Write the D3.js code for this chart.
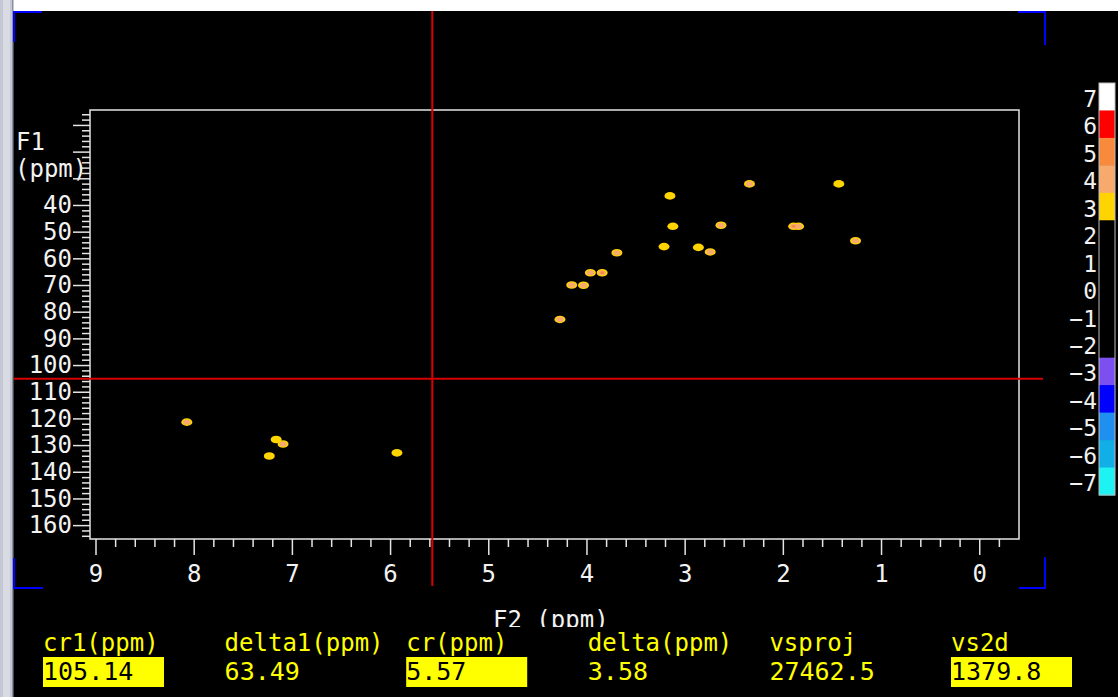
<!DOCTYPE html>
<html>
<head>
<meta charset="utf-8">
<script src="https://cdn.jsdelivr.net/npm/d3@7"></script>
<style>
  html, body { margin: 0; padding: 0; background: #000; overflow: hidden; }
  svg { display: block; }
  text { font-family: "DejaVu Sans Mono", "Liberation Mono", monospace; }
</style>
</head>
<body>
<svg id="chart" width="1118" height="697"></svg>
<script>
// axis tick labels
const f2Labels = [9, 8, 7, 6, 5, 4, 3, 2, 1, 0];
const f1Labels = [40, 50, 60, 70, 80, 90, 100, 110, 120, 130, 140, 150, 160];
const f1Majors = [10, 20, 30].concat(f1Labels);

// contour levels of the colour bar, top to bottom
const levels = [7, 6, 5, 4, 3, 2, 1, 0, -1, -2, -3, -4, -5, -6, -7];
const levelColors = ['#ffffff', '#ff0000', '#f78a3c', '#f7aa6e', '#ffd400',
  '#000000', '#000000', '#000000', '#000000', '#000000',
  '#7c50f0', '#0000ff', '#2090f0', '#12aee8', '#1ef2f2'];

// cross peaks (F2 ppm, F1 ppm, highest contour level reached)
const peakF2 = [4.27, 4.15, 4.03, 3.96, 3.84, 3.69, 3.15, 3.12, 3.21, 2.86, 2.74, 2.63,
  2.34, 1.89, 1.84, 1.43, 1.26, 8.07, 7.16, 7.09, 7.23, 5.93];
const peakF1 = [82.9, 70.0, 70.1, 65.4, 65.4, 57.9, 36.6, 48.0, 55.6, 55.9, 57.6, 47.6,
  32.1, 48.0, 48.0, 32.1, 53.4, 121.4, 127.9, 129.6, 134.1, 132.9];
const peakLevel = [4, 4, 4, 4, 5, 4, 3, 3, 3, 3, 4, 4, 4, 5, 4, 3, 4, 4, 3, 4, 3, 3];

// cursor readout
const readLabels = ['cr1(ppm)', 'delta1(ppm)', 'cr(ppm)', 'delta(ppm)', 'vsproj', 'vs2d'];
const readValues = ['105.14', '63.49', '5.57', '3.58', '27462.5', '1379.8'];
const readBoxed = [true, false, true, false, false, true];

(function() {
  'use strict';

  const svg = d3.select('#chart');
  const W = 1118, H = 697;
  const frame = { left: 90, top: 110, right: 1019, bottom: 539 };
  const axisColor = '#e4e4e4';
  const yellow = '#ffff00';

  // window chrome
  svg.append('rect').attr('width', W).attr('height', H).attr('fill', '#000');
  svg.append('rect').attr('width', W).attr('height', 11).attr('fill', '#ffffff');
  svg.append('rect').attr('x', 0).attr('y', 0).attr('width', 13).attr('height', H).attr('fill', '#c4c8d2');
  svg.append('rect').attr('x', 3).attr('y', 0).attr('width', 7).attr('height', H).attr('fill', '#d8dbe3');
  svg.append('rect').attr('x', 12).attr('y', 0).attr('width', 1.5).attr('height', H).attr('fill', '#8a90a0');

  const x = d3.scaleLinear().domain([9.056, -0.405]).range([frame.left, frame.right]);
  const y = d3.scaleLinear().domain([4.4, 165.2]).range([frame.top, frame.bottom]);

  // blue corner marks of the display area
  const corners = [
    [[14, 42], [14, 12], [42, 12]],
    [[1018, 12], [1045, 12], [1045, 45]],
    [[1045, 557], [1045, 588], [1019, 588]],
    [[14, 558], [14, 588], [43, 588]]
  ];
  svg.append('g').selectAll('path').data(corners).enter().append('path')
    .attr('d', d => d3.line()(d))
    .attr('fill', 'none').attr('stroke', '#0000ff').attr('stroke-width', 2);

  // peaks drawn as nested contour blobs
  const levelColor = d3.scaleOrdinal().domain(levels).range(levelColors);
  const peaks = peakF2.map((f2, i) => ({ f2: f2, f1: peakF1[i], level: peakLevel[i] }));
  const contourSteps = [3, 4, 5];
  const peakG = svg.append('g');
  contourSteps.forEach((lv, k) => {
    peakG.append('g').selectAll('ellipse')
      .data(peaks.filter(p => p.level >= lv))
      .enter().append('ellipse')
      .attr('cx', d => x(d.f2))
      .attr('cy', d => y(d.f1))
      .attr('rx', 5.5 - k * 1.8)
      .attr('ry', 3.8 - k * 1.2)
      .attr('fill', levelColor(lv));
  });

  // frame
  svg.append('rect')
    .attr('x', frame.left).attr('y', frame.top)
    .attr('width', frame.right - frame.left).attr('height', frame.bottom - frame.top)
    .attr('fill', 'none').attr('stroke', axisColor).attr('stroke-width', 1.5);

  function styleAxis(g) {
    g.select('.domain').remove();
    g.selectAll('line').attr('stroke', axisColor).attr('stroke-width', 1.5);
    g.selectAll('text').attr('fill', '#f2f2f2').style('font-size', '24px');
  }

  // F2 axis
  const xMinor = d3.range(-2, 91, 2).map(v => v / 10).filter(v => Math.round(v * 10) % 10 !== 0);
  svg.append('g').attr('transform', `translate(0,${frame.bottom})`)
    .call(d3.axisBottom(x).tickValues(xMinor).tickSize(8).tickFormat(''))
    .call(styleAxis);
  svg.append('g').attr('transform', `translate(0,${frame.bottom})`)
    .call(d3.axisBottom(x).tickValues(f2Labels).tickSize(16).tickPadding(10).tickFormat(d3.format('d')))
    .call(styleAxis);

  // F1 axis
  const yMinor = d3.range(6, 165, 2).filter(v => v % 10 !== 0);
  svg.append('g').attr('transform', `translate(${frame.left},0)`)
    .call(d3.axisLeft(y).tickValues(yMinor).tickSize(8).tickFormat(''))
    .call(styleAxis);
  svg.append('g').attr('transform', `translate(${frame.left},0)`)
    .call(d3.axisLeft(y).tickValues(f1Majors).tickSize(17).tickPadding(1)
      .tickFormat(d => f1Labels.includes(d) ? d : ''))
    .call(styleAxis);

  svg.append('text').attr('x', 16).attr('y', 150).attr('fill', '#f2f2f2')
    .style('font-size', '24px').text('F1');
  svg.append('text').attr('x', 15).attr('y', 177).attr('fill', '#f2f2f2')
    .style('font-size', '24px').text('(ppm)');

  // cursor cross hair
  svg.append('line')
    .attr('x1', x(+readValues[2])).attr('x2', x(+readValues[2]))
    .attr('y1', 11).attr('y2', 586)
    .attr('stroke', '#d80000').attr('stroke-width', 2);
  svg.append('line')
    .attr('x1', 14).attr('x2', 1043)
    .attr('y1', y(+readValues[0])).attr('y2', y(+readValues[0]))
    .attr('stroke', '#d80000').attr('stroke-width', 2);

  // colour bar
  const band = d3.scaleBand().domain(levels).range([83, 495]);
  const bar = svg.append('g');
  bar.selectAll('rect').data(levels).enter().append('rect')
    .attr('x', 1099).attr('y', d => band(d))
    .attr('width', 16).attr('height', band.bandwidth() + 0.5)
    .attr('fill', d => levelColor(d));
  bar.append('rect').attr('x', 1099).attr('y', 83).attr('width', 16).attr('height', 412)
    .attr('fill', 'none').attr('stroke', '#bdbdbd').attr('stroke-width', 1);
  bar.selectAll('text').data(levels).enter().append('text')
    .attr('x', 1097).attr('y', d => band(d) + band.bandwidth() / 2 + 2)
    .attr('dy', '0.35em').attr('text-anchor', 'end')
    .attr('fill', '#f2f2f2').style('font-size', '23px')
    .text(d => d < 0 ? '\u2212' + (-d) : d);

  // F2 label, partly hidden by the readout panel
  svg.append('text').attr('x', 493).attr('y', 628).attr('fill', '#f2f2f2')
    .style('font-size', '24px').text('F2 (ppm)');
  svg.append('rect').attr('x', 14).attr('y', 627).attr('width', W - 14).attr('height', H - 627)
    .attr('fill', '#000');

  // readout panel
  const colX = d3.scalePoint().domain(d3.range(readLabels.length)).range([43, 951]);
  const panel = svg.append('g');
  panel.selectAll('rect').data(readValues.map((v, i) => i).filter(i => readBoxed[i]))
    .enter().append('rect')
    .attr('x', i => colX(i)).attr('y', 657).attr('width', 121).attr('height', 30)
    .attr('fill', yellow);
  panel.selectAll('text.lbl').data(readLabels).enter().append('text')
    .attr('class', 'lbl')
    .attr('x', (d, i) => colX(i)).attr('y', 651)
    .attr('fill', yellow).style('font-size', '24px').text(d => d);
  panel.selectAll('text.val').data(readValues).enter().append('text')
    .attr('class', 'val')
    .attr('x', (d, i) => colX(i)).attr('y', 680)
    .attr('fill', (d, i) => readBoxed[i] ? '#000' : yellow)
    .style('font-size', '25px').text(d => d);
})();
</script>
</body>
</html>
